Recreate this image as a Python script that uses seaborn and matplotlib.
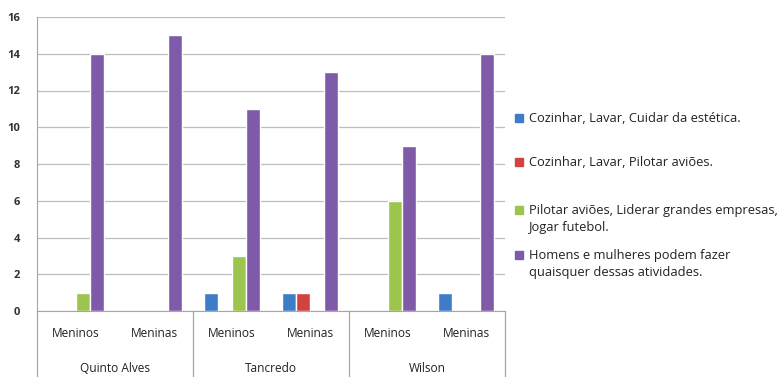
import matplotlib.pyplot as plt
import seaborn as sns
import pandas as pd
from matplotlib.legend_handler import HandlerPatch

schools = ["Quinto Alves", "Tancredo", "Wilson"]
groups = ["Meninos", "Meninas"]
answers = [
    "Cozinhar, Lavar, Cuidar da estética.",
    "Cozinhar, Lavar, Pilotar aviões.",
    "Pilotar aviões, Liderar grandes empresas,\nJogar futebol.",
    "Homens e mulheres podem fazer\nquaisquer dessas atividades.",
]
# one list per answer, order: QA-Meninos, QA-Meninas, T-Meninos, T-Meninas, W-Meninos, W-Meninas
cuidar = [0, 0, 1, 1, 0, 1]
pilotar_lavar = [0, 0, 0, 1, 0, 0]
liderar = [1, 0, 3, 0, 6, 0]
todos = [14, 15, 11, 13, 9, 14]

colors = ["#3F7CC8", "#D1433F", "#9BC54E", "#7F5AA8"]

LEG_SIZE = 9.3
LEG_LINESPACING = 1.45


def build_df():
    rows = []
    cats = [f"{s}|{g}" for s in schools for g in groups]
    for ans, vals in zip(answers, [cuidar, pilotar_lavar, liderar, todos]):
        for c, v in zip(cats, vals):
            rows.append({"cat": c, "resposta": ans, "n": v})
    return pd.DataFrame(rows), cats


def top_line_patch(legend, orig_handle, xdescent, ydescent, width, height, fontsize):
    # put the swatch next to the first line of a two-line label
    shift = 0.5 * LEG_SIZE * LEG_LINESPACING
    return plt.Rectangle((-xdescent, -ydescent + shift), width, height)


def main():
    sns.set_style("white")
    plt.rcParams["font.family"] = ["Open Sans", "DejaVu Sans"]

    df, cats = build_df()
    fig = plt.figure(figsize=(7.8, 3.77), dpi=100)
    ax = fig.add_axes([37 / 780, 1 - 311 / 377, (505 - 37) / 780, 294 / 377])

    sns.barplot(data=df, x="cat", y="n", hue="resposta", order=cats,
                hue_order=answers, palette=colors, width=0.72,
                saturation=1, ax=ax, legend=False)

    ax.set_ylim(0, 16)
    ax.set_xlim(-0.5, len(cats) - 0.5)
    ax.set_yticks(range(0, 17, 2))
    ax.yaxis.grid(True, color="#BDBDBD", linewidth=0.9)
    ax.set_axisbelow(True)
    ax.set_xlabel("")
    ax.set_ylabel("")
    ax.set_xticks([])
    for s in ["top", "right"]:
        ax.spines[s].set_visible(False)
    ax.spines["left"].set_color("#A6A6A6")
    ax.spines["bottom"].set_color("#A6A6A6")
    ax.tick_params(axis="y", length=0, labelsize=8, pad=12)
    for t in ax.get_yticklabels():
        t.set_fontweight("bold")
        t.set_color("#333333")

    # multi-level category axis
    trans = ax.get_xaxis_transform()
    for i, c in enumerate(cats):
        ax.text(i, -0.075, c.split("|")[1], transform=trans, ha="center",
                va="center", fontsize=8.6, color="#222222")
    for j, s in enumerate(schools):
        ax.text(2 * j + 0.5, -0.197, s, transform=trans, ha="center",
                va="center", fontsize=8.6, color="#222222")
    for x in [-0.5, 1.5, 3.5, 5.5]:
        ax.plot([x, x], [0, -0.23], transform=trans, color="#A6A6A6",
                linewidth=0.9, clip_on=False)

    # legend, one block per entry so the spacing follows the reference
    centers = [119, 163, 219, 264]
    for ans, col, yc in zip(answers, colors, centers):
        h = plt.Rectangle((0, 0), 1, 1, color=col)
        hmap = {h: HandlerPatch(patch_func=top_line_patch)} if "\n" in ans else None
        leg = fig.legend([h], [ans], loc="center left",
                         bbox_to_anchor=(515 / 780, 1 - yc / 377),
                         frameon=False, fontsize=LEG_SIZE, handlelength=0.62,
                         handleheight=0.62, handletextpad=0.5,
                         borderaxespad=0, borderpad=0, handler_map=hmap)
        for t in leg.get_texts():
            t.set_linespacing(LEG_LINESPACING)
            t.set_color("#222222")

    fig.savefig("out.png", dpi=100)


if __name__ == "__main__":
    main()
